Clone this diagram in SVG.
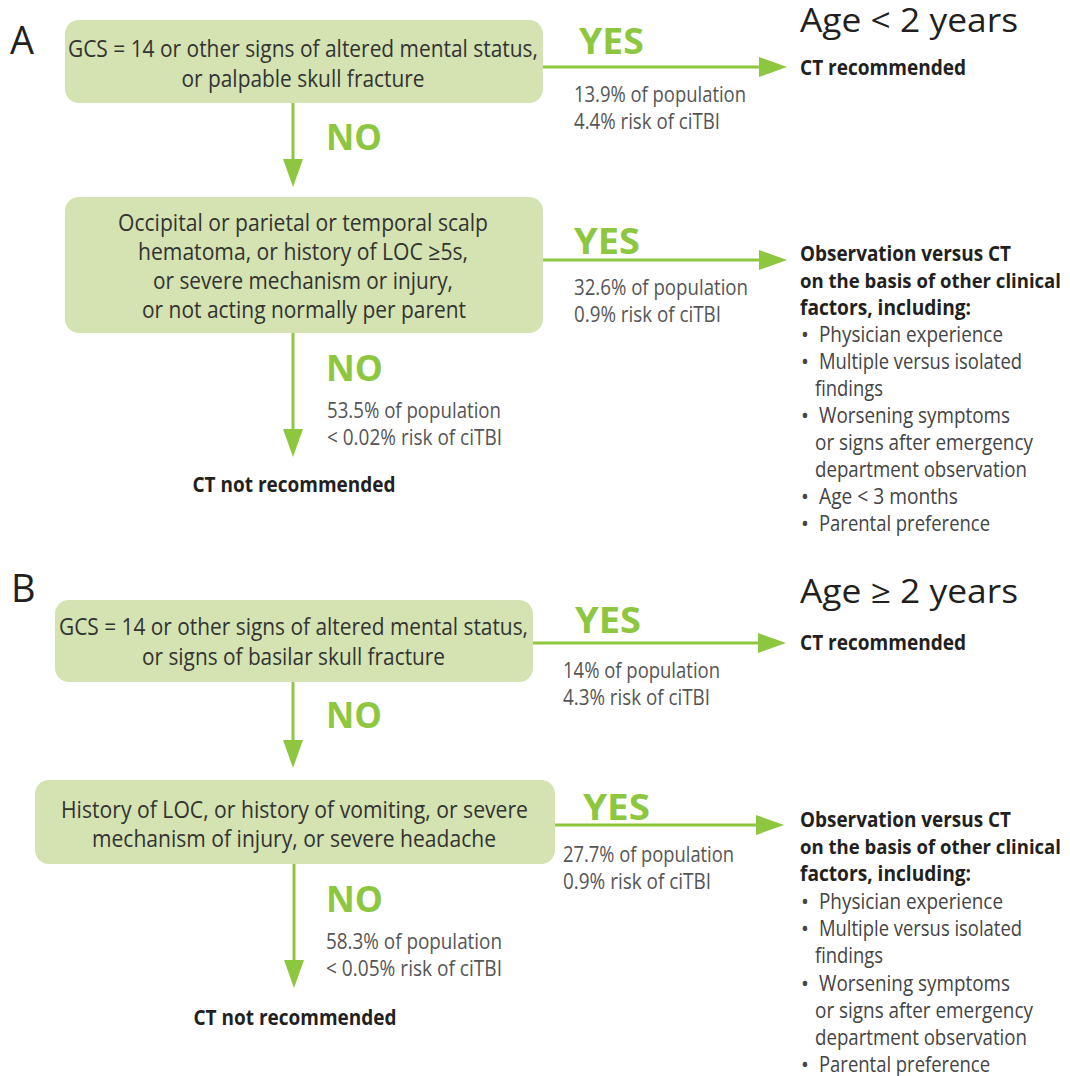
<svg xmlns="http://www.w3.org/2000/svg" width="1070" height="1076" viewBox="0 0 1070 1076">
<style>
text{font-family:"Open Sans","Liberation Sans",sans-serif}
.box{fill:#d4e3b1}
.bt{font-size:23px;fill:#333;text-anchor:middle}
.yn{font-size:35px;font-weight:bold;fill:#8dc63f}
.pop{font-size:21px;fill:#555}
.bold{font-size:21px;font-weight:bold;fill:#231f20}
.bold.long{font-size:19.2px}
.li{font-size:21px;fill:#444}
.big{font-size:32px;fill:#231f20}
.letter{font-size:38px;fill:#231f20}
.conn line{stroke:#8dc63f;stroke-width:3}
</style>
<defs>
<marker id="ah" markerUnits="userSpaceOnUse" viewBox="0 0 28 20" refX="8" refY="10" markerWidth="28" markerHeight="20" orient="auto">
<path d="M0,0 L28,10 L0,20 Z" fill="#8dc63f"/>
</marker>
</defs>
<rect width="1070" height="1076" fill="#fff"/>

<text class="letter" x="10" y="54">A</text>
<text class="letter" x="11" y="602">B</text>
<text class="big" x="800" y="32" textLength="218" lengthAdjust="spacingAndGlyphs">Age &lt; 2 years</text>
<text class="big" x="800" y="603" textLength="218" lengthAdjust="spacingAndGlyphs">Age ≥ 2 years</text>

<g class="conn" id="connectors">
<line x1="543" y1="67" x2="767" y2="67" marker-end="url(#ah)"/>
<line x1="293" y1="103" x2="293" y2="167" marker-end="url(#ah)"/>
<line x1="543" y1="260" x2="767" y2="260" marker-end="url(#ah)"/>
<line x1="293" y1="333" x2="293" y2="437" marker-end="url(#ah)"/>
<line x1="533" y1="643" x2="766" y2="643" marker-end="url(#ah)"/>
<line x1="293" y1="682" x2="293" y2="748" marker-end="url(#ah)"/>
<line x1="555" y1="825" x2="764" y2="825" marker-end="url(#ah)"/>
<line x1="294" y1="864" x2="294" y2="968" marker-end="url(#ah)"/>
</g>

<g id="labels">
<text class="yn" x="579" y="54" textLength="65" lengthAdjust="spacingAndGlyphs">YES</text>
<text class="pop" x="574" y="102" textLength="172" lengthAdjust="spacingAndGlyphs">13.9% of population</text>
<text class="pop" x="574" y="129" textLength="146" lengthAdjust="spacingAndGlyphs">4.4% risk of ciTBI</text>
<text class="yn" x="326" y="150" textLength="56" lengthAdjust="spacingAndGlyphs">NO</text>

<text class="yn" x="574" y="254" textLength="66" lengthAdjust="spacingAndGlyphs">YES</text>
<text class="pop" x="574" y="295" textLength="174" lengthAdjust="spacingAndGlyphs">32.6% of population</text>
<text class="pop" x="574" y="322" textLength="147" lengthAdjust="spacingAndGlyphs">0.9% risk of ciTBI</text>
<text class="yn" x="326" y="381" textLength="57" lengthAdjust="spacingAndGlyphs">NO</text>
<text class="pop" x="327" y="418" textLength="174" lengthAdjust="spacingAndGlyphs">53.5% of population</text>
<text class="pop" x="327" y="445" textLength="175" lengthAdjust="spacingAndGlyphs">&lt; 0.02% risk of ciTBI</text>

<text class="yn" x="575" y="633" textLength="66" lengthAdjust="spacingAndGlyphs">YES</text>
<text class="pop" x="563" y="678" textLength="157" lengthAdjust="spacingAndGlyphs">14% of population</text>
<text class="pop" x="563" y="705" textLength="147" lengthAdjust="spacingAndGlyphs">4.3% risk of ciTBI</text>
<text class="yn" x="326" y="728" textLength="56" lengthAdjust="spacingAndGlyphs">NO</text>

<text class="yn" x="583" y="820" textLength="67" lengthAdjust="spacingAndGlyphs">YES</text>
<text class="pop" x="563" y="862" textLength="171" lengthAdjust="spacingAndGlyphs">27.7% of population</text>
<text class="pop" x="563" y="889" textLength="148" lengthAdjust="spacingAndGlyphs">0.9% risk of ciTBI</text>
<text class="yn" x="326" y="912" textLength="57" lengthAdjust="spacingAndGlyphs">NO</text>
<text class="pop" x="326" y="949" textLength="176" lengthAdjust="spacingAndGlyphs">58.3% of population</text>
<text class="pop" x="326" y="976" textLength="176" lengthAdjust="spacingAndGlyphs">&lt; 0.05% risk of ciTBI</text>
</g>

<g id="a1">
<rect class="box" x="65" y="20" width="478" height="83" rx="14"/>
<text class="bt" x="303" y="57" textLength="470" lengthAdjust="spacingAndGlyphs">GCS = 14 or other signs of altered mental status,</text>
<text class="bt" x="303" y="87" textLength="243" lengthAdjust="spacingAndGlyphs">or palpable skull fracture</text>
</g>

<g id="a1-yes">
<text class="bold" x="800" y="75" textLength="166" lengthAdjust="spacingAndGlyphs">CT recommended</text>
</g>

<g id="a2">
<rect class="box" x="65" y="197" width="478" height="136" rx="14"/>
<text class="bt" x="303" y="231" textLength="370" lengthAdjust="spacingAndGlyphs">Occipital or parietal or temporal scalp</text>
<text class="bt" x="303" y="260" textLength="330" lengthAdjust="spacingAndGlyphs">hematoma, or history of LOC ≥5s,</text>
<text class="bt" x="303" y="289" textLength="300" lengthAdjust="spacingAndGlyphs">or severe mechanism or injury,</text>
<text class="bt" x="304" y="318" textLength="324" lengthAdjust="spacingAndGlyphs">or not acting normally per parent</text>
</g>

<g id="a2-yes">
<text class="bold" x="800" y="261" textLength="211" lengthAdjust="spacingAndGlyphs">Observation versus CT</text>
<text class="bold long" x="800" y="288" textLength="261" lengthAdjust="spacingAndGlyphs">on the basis of other clinical</text>
<text class="bold" x="800" y="315" textLength="171" lengthAdjust="spacingAndGlyphs">factors, including:</text>
<text class="li" x="801" y="342">•</text><text class="li" x="819" y="342" textLength="184" lengthAdjust="spacingAndGlyphs">Physician experience</text>
<text class="li" x="801" y="369">•</text><text class="li" x="819" y="369" textLength="203" lengthAdjust="spacingAndGlyphs">Multiple versus isolated</text>
<text class="li" x="815" y="396" textLength="68" lengthAdjust="spacingAndGlyphs">findings</text>
<text class="li" x="801" y="423">•</text><text class="li" x="819" y="423" textLength="191" lengthAdjust="spacingAndGlyphs">Worsening symptoms</text>
<text class="li" x="815" y="450" textLength="218" lengthAdjust="spacingAndGlyphs">or signs after emergency</text>
<text class="li" x="815" y="477" textLength="212" lengthAdjust="spacingAndGlyphs">department observation</text>
<text class="li" x="801" y="504">•</text><text class="li" x="819" y="504" textLength="139" lengthAdjust="spacingAndGlyphs">Age &lt; 3 months</text>
<text class="li" x="801" y="531">•</text><text class="li" x="819" y="531" textLength="171" lengthAdjust="spacingAndGlyphs">Parental preference</text>
</g>

<g id="a2-no">
<text class="bold" x="294" y="492" text-anchor="middle" textLength="203" lengthAdjust="spacingAndGlyphs">CT not recommended</text>
</g>

<g id="b1">
<rect class="box" x="55" y="600" width="478" height="82" rx="14"/>
<text class="bt" x="293.5" y="635" textLength="469" lengthAdjust="spacingAndGlyphs">GCS = 14 or other signs of altered mental status,</text>
<text class="bt" x="293.5" y="665" textLength="303" lengthAdjust="spacingAndGlyphs">or signs of basilar skull fracture</text>
</g>

<g id="b1-yes">
<text class="bold" x="800" y="650" textLength="166" lengthAdjust="spacingAndGlyphs">CT recommended</text>
</g>

<g id="b2">
<rect class="box" x="35" y="780" width="520" height="84" rx="14"/>
<text class="bt" x="294.5" y="818" textLength="467" lengthAdjust="spacingAndGlyphs">History of LOC, or history of vomiting, or severe</text>
<text class="bt" x="294" y="847" textLength="404" lengthAdjust="spacingAndGlyphs">mechanism of injury, or severe headache</text>
</g>

<g id="b2-yes">
<text class="bold" x="800" y="827" textLength="211" lengthAdjust="spacingAndGlyphs">Observation versus CT</text>
<text class="bold long" x="800" y="854" textLength="261" lengthAdjust="spacingAndGlyphs">on the basis of other clinical</text>
<text class="bold" x="800" y="881" textLength="171" lengthAdjust="spacingAndGlyphs">factors, including:</text>
<text class="li" x="801" y="909">•</text><text class="li" x="819" y="909" textLength="184" lengthAdjust="spacingAndGlyphs">Physician experience</text>
<text class="li" x="801" y="936">•</text><text class="li" x="819" y="936" textLength="203" lengthAdjust="spacingAndGlyphs">Multiple versus isolated</text>
<text class="li" x="815" y="963" textLength="68" lengthAdjust="spacingAndGlyphs">findings</text>
<text class="li" x="801" y="991">•</text><text class="li" x="819" y="991" textLength="191" lengthAdjust="spacingAndGlyphs">Worsening symptoms</text>
<text class="li" x="815" y="1018" textLength="218" lengthAdjust="spacingAndGlyphs">or signs after emergency</text>
<text class="li" x="815" y="1045" textLength="212" lengthAdjust="spacingAndGlyphs">department observation</text>
<text class="li" x="801" y="1072">•</text><text class="li" x="819" y="1072" textLength="171" lengthAdjust="spacingAndGlyphs">Parental preference</text>
</g>

<g id="b2-no">
<text class="bold" x="295" y="1025" text-anchor="middle" textLength="203" lengthAdjust="spacingAndGlyphs">CT not recommended</text>
</g>
</svg>
